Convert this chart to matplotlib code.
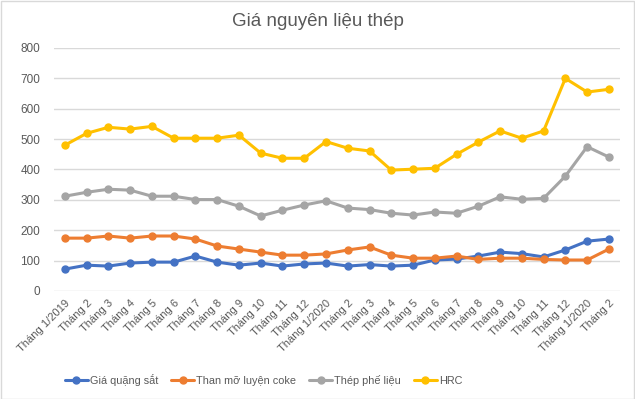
import matplotlib
matplotlib.use('Agg')
import matplotlib.pyplot as plt
import numpy as np

# ── Data ──────────────────────────────────────────────────────────────────
MONTHS = (['Tháng 1/2019'] + [f'Tháng {m}' for m in range(2, 13)]
          + ['Tháng 1/2020'] + [f'Tháng {m}' for m in range(2, 13)]
          + ['Tháng 1/2020', 'Tháng 2'])

iron_ore = [72, 85, 82, 92, 95, 95, 115, 95, 85, 92, 82, 89,
            92, 82, 87, 82, 85, 102, 105, 115, 128, 123, 112, 135, 164, 171]
coke     = [174, 174, 181, 174, 181, 181, 171, 148, 138, 128, 118, 118,
            122, 135, 145, 118, 108, 108, 115, 104, 108, 108, 104, 102, 102, 138]
scrap    = [312, 325, 335, 332, 312, 312, 301, 301, 279, 247, 266, 283,
            297, 273, 268, 256, 250, 260, 256, 279, 310, 302, 305, 378, 475, 441]
hrc      = [480, 519, 539, 533, 542, 503, 503, 503, 513, 454, 437, 437,
            492, 470, 461, 398, 401, 404, 450, 490, 527, 503, 527, 700, 655, 664]

SERIES = ['Giá quặng sắt', 'Than mỡ luyện coke', 'Thép phế liệu', 'HRC']
COLORS = ['#4472C4', '#ED7D31', '#A5A5A5', '#FFC000']

plt.rcParams['font.family'] = ['Liberation Sans', 'DejaVu Sans']

fig = plt.figure(figsize=(6.35, 3.99), dpi=100)
ax = fig.add_axes([0.085, 0.2707, 0.891, 0.609])

x = np.arange(len(MONTHS))
for vals, name, col in zip([iron_ore, coke, scrap, hrc], SERIES, COLORS):
    ax.plot(x, vals, color=col, linewidth=2.2, marker='o', markersize=5,
            label=name, solid_capstyle='round')

ax.set_xlim(-0.5, len(MONTHS) - 0.5)
ax.set_ylim(0, 800)
ax.set_yticks(range(0, 801, 100))
ax.set_xticks(x)
ax.set_xticklabels(MONTHS, rotation=45, ha='right', rotation_mode='anchor',
                   fontsize=8, color='#595959')
ax.tick_params(axis='y', labelsize=8.5, labelcolor='#595959', length=0, pad=10)
ax.tick_params(axis='x', length=0, pad=5)
ax.grid(axis='y', color='#D9D9D9', linewidth=1)
ax.set_axisbelow(True)
for s in ax.spines.values():
    s.set_visible(False)

fig.text(0.5, 0.945, 'Giá nguyên liệu thép', ha='center', va='center',
         fontsize=13.5, color='#595959')

fig.legend(loc='center', bbox_to_anchor=(0.415, 0.048), ncol=4, frameon=False,
           fontsize=7.8, labelcolor='#595959', handlelength=2.1,
           handletextpad=0.2, columnspacing=1.2)

fig.patches.append(plt.Rectangle((0.001, 0.001), 0.997, 0.997,
                                 transform=fig.transFigure, fill=False,
                                 edgecolor='#D9D9D9', linewidth=1))

plt.savefig('out.png', dpi=100, facecolor='white')
